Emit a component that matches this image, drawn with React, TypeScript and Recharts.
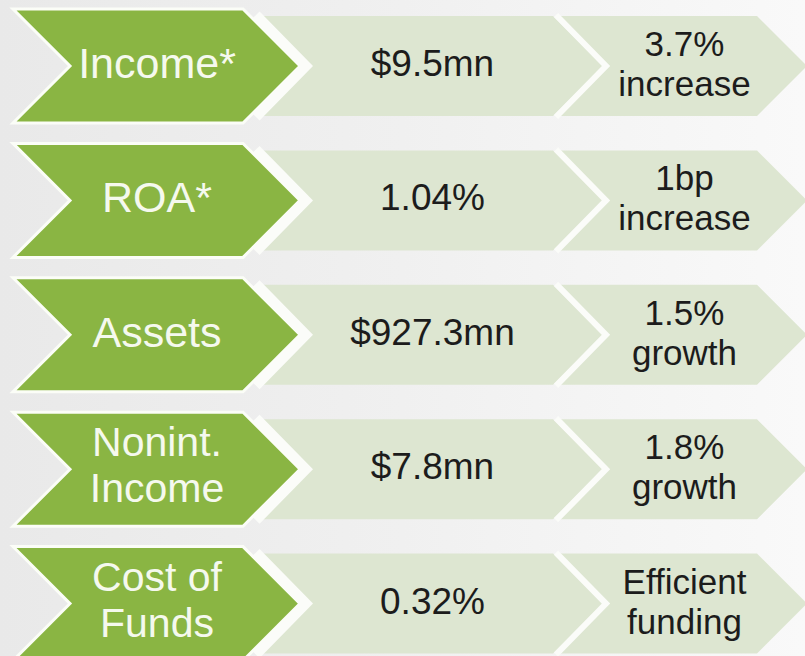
import { BarChart, Bar, XAxis, YAxis } from 'recharts'

const metrics = ['Income*', 'ROA*', 'Assets', 'Nonint.\nIncome', 'Cost of\nFunds']
const figures = ['$9.5mn', '1.04%', '$927.3mn', '$7.8mn', '0.32%']
const changes = ['3.7%\nincrease', '1bp\nincrease', '1.5%\ngrowth', '1.8%\ngrowth', 'Efficient\nfunding']

// horizontal span of each arrow, in axis units (1 unit = 1px here)
const LEAD = 20
const METRIC_SPAN = 236
const FIGURE_SPAN = 300
const CHANGE_SPAN = 201

const data = metrics.map((metric, i) => ({
    metric,
    figure: figures[i],
    change: changes[i],
    lead: LEAD,
    metricSpan: METRIC_SPAN,
    figureSpan: FIGURE_SPAN,
    changeSpan: CHANGE_SPAN,
}))

const GREEN = '#8ab543'
const PALE = '#dde6d1'
const FONT = '"Liberation Sans", Arial, sans-serif'
const DEPTH = 50

const pts = (list: number[][]) => list.map(p => p.join(',')).join(' ')

function TextBlock({ cx, cy, text, fill, size, single, top, lead }: any) {
    const lines = String(text).split('\n')
    const first = lines.length === 1 ? cy + single : cy + top
    return (
        <text textAnchor="middle" fill={fill} fontSize={size} fontFamily={FONT}>
            {lines.map((line, i) => (
                <tspan key={i} x={cx} y={first + i * lead}>{line}</tspan>
            ))}
        </text>
    )
}

function MetricArrow(props: any) {
    const { x, y, width, height, payload } = props
    const e = 7
    const x1 = x + width - 6
    const mid = y + height / 2
    const shape = [
        [x - e, y - e], [x1 - e, y - e], [x1 + DEPTH, mid],
        [x1 - e, y + height + e], [x - e, y + height + e], [x + DEPTH, mid],
    ]
    const twoLines = String(payload.metric).includes('\n')
    return (
        <g>
            <polygon points={pts(shape)} fill={GREEN} stroke="#fbfdf7" strokeWidth={3} />
            <TextBlock
                cx={(x + DEPTH + x1) / 2 - 3} cy={mid} text={payload.metric}
                fill="#f5f9ee" size={twoLines ? 41 : 43} single={12} top={-13} lead={46}
            />
        </g>
    )
}

function StepArrow(props: any) {
    const { x, y, width, height, gap, notch, field, size, single, top, lead, shift } = props
    const x1 = x + width - gap
    const mid = y + height / 2
    const shape = [
        [x, y], [x1, y], [x1 + DEPTH, mid],
        [x1, y + height], [x, y + height], [x + DEPTH, mid],
    ]
    return (
        <g>
            <polygon points={pts(shape)} fill={PALE} />
            <polyline
                points={pts([[x, y - 1], [x + DEPTH, mid], [x, y + height + 1]])}
                fill="none" stroke="#fbfcf9" strokeWidth={notch}
            />
            <TextBlock
                cx={(x + DEPTH + x1) / 2 + shift} cy={mid} text={props.payload[field]}
                fill="#1c1c1c" size={size} single={single} top={top} lead={lead}
            />
        </g>
    )
}

export default function App() {
    return (
        <div
            style={{
                position: 'absolute', left: 0, top: 0, width: 805, height: 656, overflow: 'hidden',
                background: 'linear-gradient(90deg, #e9e9e9 0%, #f0f0f0 50%, #f9f9f9 100%)',
            }}
        >
            <BarChart
                width={805}
                height={656}
                data={data}
                layout="vertical"
                margin={{ top: -1, right: 0, bottom: -15, left: 0 }}
                barSize={100}
            >
                <XAxis type="number" domain={[0, 805]} hide />
                <YAxis type="category" dataKey="metric" hide />
                <Bar dataKey="lead" stackId="row" isAnimationActive={false} shape={() => <g />} />
                <Bar dataKey="metricSpan" stackId="row" isAnimationActive={false} shape={<MetricArrow />} />
                <Bar
                    dataKey="figureSpan" stackId="row" isAnimationActive={false}
                    shape={<StepArrow gap={3} notch={10} field="figure" size={37} single={10} top={-10} lead={40} shift={3} />}
                />
                <Bar
                    dataKey="changeSpan" stackId="row" isAnimationActive={false}
                    shape={<StepArrow gap={0} notch={6} field="change" size={35} single={11} top={-10} lead={40} shift={3} />}
                />
            </BarChart>
        </div>
    )
}
